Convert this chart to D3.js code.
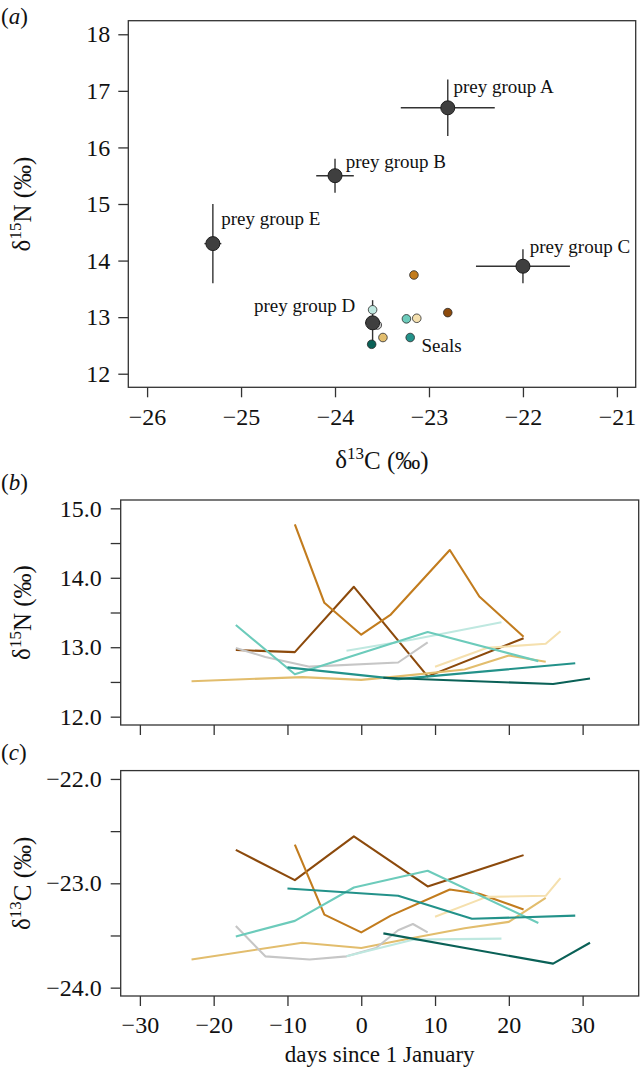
<!DOCTYPE html>
<html>
<head>
<meta charset="utf-8">
<script src="https://cdn.jsdelivr.net/npm/d3@7"></script>
<style>
  html, body { margin: 0; padding: 0; background: #fff; }
  svg { display: block; font-family: "Liberation Serif", "DejaVu Serif", serif; }
</style>
</head>
<body>
<svg id="chart" width="640" height="1072"></svg>
<script>
// ---------------- DATA ----------------
// Panel (a): prey groups (mean d13C, mean d15N, error bar extents)
const preyNames = ["A", "B", "C", "D", "E"];
const preyC     = [-22.8, -24.0, -22.0, -23.6, -25.3];
const preyN     = [16.7, 15.5, 13.9, 12.9, 14.3];
const preyCLo   = [-23.3, -24.2, -22.5, -23.68, -25.39];
const preyCHi   = [-22.3, -23.8, -21.5, -23.52, -25.21];
const preyNLo   = [16.2, 15.2, 13.6, 12.55, 13.6];
const preyNHi   = [17.2, 15.8, 14.2, 13.3, 15.0];

// Seals (one per individual, colour-coded)
const sealIds = ["darkBrown", "orange", "tan", "paleYellow", "grey", "paleCyan", "turq", "teal", "darkTeal"];
const sealC   = [-22.80, -23.16, -23.49, -23.13, -23.55, -23.60, -23.24, -23.20, -23.61];
const sealN   = [13.08, 13.745, 12.64, 12.98, 12.86, 13.13, 12.97, 12.64, 12.52];

// Panel (b): d15N time series, [day since 1 January, value]
const seriesN = {
  darkBrown:  [[-17,12.96],[-9,12.93],[-1,13.87],[9,12.58],[22,13.13]],
  orange:     [[-9,14.77],[-5,13.64],[0,13.18],[4,13.47],[12,14.40],[16,13.73],[22,13.15]],
  tan:        [[-23,12.51],[-8,12.57],[0,12.53],[5,12.58],[14,12.68],[20,12.88],[25,12.79]],
  paleYellow: [[10,12.72],[17,12.99],[25,13.05],[27,13.23]],
  grey:       [[-17,12.99],[-13,12.86],[-7,12.72],[5,12.78],[9,13.07]],
  paleCyan:   [[-2,12.95],[7,13.11],[19,13.36]],
  turq:       [[-17,13.32],[-9,12.61],[9,13.22],[24,12.80]],
  teal:       [[-10,12.71],[5,12.54],[29,12.77]],
  darkTeal:   [[3,12.56],[26,12.47],[31,12.55]]
};

// Panel (c): d13C time series
const seriesC = {
  darkBrown:  [[-17,-22.68],[-9,-22.97],[-1,-22.55],[9,-23.03],[22,-22.73]],
  orange:     [[-9,-22.63],[-5,-23.30],[0,-23.47],[4,-23.31],[12,-23.06],[16,-23.10],[22,-23.25]],
  tan:        [[-23,-23.73],[-8,-23.57],[0,-23.62],[5,-23.55],[14,-23.43],[20,-23.37],[25,-23.14]],
  paleYellow: [[10,-23.32],[17,-23.13],[25,-23.12],[27,-22.95]],
  grey:       [[-17,-23.41],[-13,-23.70],[-7,-23.73],[-2,-23.70],[2,-23.62],[5,-23.45],[7,-23.39],[9,-23.47]],
  paleCyan:   [[-2,-23.70],[7,-23.54],[19,-23.53]],
  turq:       [[-17,-23.51],[-9,-23.36],[-1,-23.04],[9,-22.88],[24,-23.38]],
  teal:       [[-10,-23.05],[5,-23.12],[15,-23.34],[29,-23.31]],
  darkTeal:   [[3,-23.48],[26,-23.77],[31,-23.57]]
};

// Tick values
const ticksAX = [-26, -25, -24, -23, -22, -21];
const ticksAY = [12, 13, 14, 15, 16, 17, 18];
const ticksDays = [-30, -20, -10, 0, 10, 20, 30];
const ticksBY = [12, 12.5, 13, 13.5, 14, 14.5, 15];
const ticksCY = [-24, -23.5, -23, -22.5, -22];

// ---------------- STYLE ----------------
const colors = {
  darkBrown: "#8c4a0c", orange: "#c27c1e", tan: "#e2bd6d", paleYellow: "#f5e0ae",
  grey: "#c6c6c6", paleCyan: "#bfe8e0", turq: "#6ccbbb", teal: "#23928a", darkTeal: "#0a6157"
};
const axisCol = "#333";
const tickFont = 24;
const minus = s => String(s).replace("-", "\u2212");

const svg = d3.select("#chart");

function drawBox(g, x0, x1, y0, y1) {
  g.append("rect").attr("x", x0).attr("y", y0).attr("width", x1 - x0).attr("height", y1 - y0)
    .attr("fill", "none").attr("stroke", axisCol).attr("stroke-width", 1.3);
}
function styleAxis(sel) {
  sel.select(".domain").remove();
  sel.selectAll(".tick line").attr("stroke", axisCol).attr("stroke-width", 1.3);
  sel.selectAll(".tick text").attr("fill", "#111").style("font-size", tickFont + "px")
    .style("font-family", "'Liberation Serif', serif");
}
function isoText(t, iso, elem) {
  t.append("tspan").text("\u03b4");
  t.append("tspan").text(iso).style("font-size", "17px").attr("dy", "-0.55em");
  t.append("tspan").text(elem + " (\u2030)").attr("dy", "0.4em");
}
function yTitle(g, cx, cy, iso, elem) {
  const t = g.append("text").attr("transform", `translate(${cx},${cy}) rotate(-90)`)
    .attr("text-anchor", "middle").style("font-size", "25px").attr("fill", "#111");
  isoText(t, iso, elem);
}
function xTitleIso(g, cx, cy, iso, elem) {
  const t = g.append("text").attr("x", cx).attr("y", cy)
    .attr("text-anchor", "middle").style("font-size", "25px").attr("fill", "#111");
  isoText(t, iso, elem);
}
function panelLabel(g, x, y, letter) {
  const t = g.append("text").attr("x", x).attr("y", y).style("font-size", "23px").attr("fill", "#111");
  t.append("tspan").text("(");
  t.append("tspan").text(letter).style("font-style", "italic");
  t.append("tspan").text(")");
}

// ---------------- PANEL A ----------------
const ga = svg.append("g");
const xA = d3.scaleLinear().domain([-26.2, -20.8]).range([128.3, 635.7]);
const yA = d3.scaleLinear().domain([11.76, 18.24]).range([387.3, 20.7]);
drawBox(ga, xA.range()[0], xA.range()[1], yA.range()[1], yA.range()[0]);
ga.append("g").attr("transform", `translate(0,${yA.range()[0]})`)
  .call(d3.axisBottom(xA).tickValues(ticksAX).tickSize(10).tickPadding(11).tickFormat(d => minus(d)))
  .call(styleAxis);
ga.append("g").attr("transform", `translate(${xA.range()[0]},0)`)
  .call(d3.axisLeft(yA).tickValues(ticksAY).tickSize(10).tickPadding(8).tickFormat(d => d))
  .call(styleAxis);
yTitle(ga, 30, (yA.range()[0] + yA.range()[1]) / 2, "15", "N");
xTitleIso(ga, (xA.range()[0] + xA.range()[1]) / 2, 468, "13", "C");
panelLabel(ga, 1, 24, "a");

// error bars
const prey = preyNames.map((n, i) => ({ n, c: preyC[i], v: preyN[i], cl: preyCLo[i], ch: preyCHi[i], nl: preyNLo[i], nh: preyNHi[i] }));
const eb = ga.append("g").attr("stroke", "#333").attr("stroke-width", 1.4);
eb.selectAll(".h").data(prey).join("line")
  .attr("x1", d => xA(d.cl)).attr("x2", d => xA(d.ch)).attr("y1", d => yA(d.v)).attr("y2", d => yA(d.v));
eb.selectAll(".v").data(prey).join("line").attr("class", "v")
  .attr("x1", d => xA(d.c)).attr("x2", d => xA(d.c)).attr("y1", d => yA(d.nl)).attr("y2", d => yA(d.nh));

// seals
const seals = sealIds.map((id, i) => ({ id, c: sealC[i], v: sealN[i] }));
ga.append("g").selectAll("circle").data(seals).join("circle")
  .attr("cx", d => xA(d.c)).attr("cy", d => yA(d.v)).attr("r", 4.3)
  .attr("fill", d => colors[d.id]).attr("stroke", "#2a2a2a").attr("stroke-width", 0.8);

// prey circles
ga.append("g").selectAll("circle").data(prey).join("circle")
  .attr("cx", d => xA(d.c)).attr("cy", d => yA(d.v)).attr("r", 7)
  .attr("fill", "#3f3f3f").attr("stroke", "#1e1e1e").attr("stroke-width", 1);

// labels (text anchor positions in data units)
const labelText  = ["prey group A", "prey group B", "prey group C", "prey group D", "prey group E", "Seals"];
const labelC     = [-22.74, -23.887, -21.927, -23.784, -25.211, -23.08];
const labelN     = [16.957, 15.642, 14.134, 13.086, 14.624, 12.39];
const labelAnch  = ["start", "start", "start", "end", "start", "start"];
ga.append("g").selectAll("text").data(labelText).join("text")
  .attr("x", (d, i) => xA(labelC[i])).attr("y", (d, i) => yA(labelN[i]))
  .attr("text-anchor", (d, i) => labelAnch[i])
  .style("font-size", "19px").attr("fill", "#111").text(d => d);

// ---------------- PANELS B & C ----------------
const xT = d3.scaleLinear().domain([-32.6, 37.6]).range([120.7, 638.7]);
function timePanel(yDomain, yRange, series, yTicks, showXLabels, letter, iso, elem, labelY) {
  const g = svg.append("g");
  const y = d3.scaleLinear().domain(yDomain).range(yRange);
  drawBox(g, xT.range()[0], xT.range()[1], yRange[1], yRange[0]);
  const ax = d3.axisBottom(xT).tickValues(ticksDays).tickSize(10).tickPadding(10)
    .tickFormat(d => showXLabels ? minus(d) : "");
  g.append("g").attr("transform", `translate(0,${yRange[0]})`).call(ax).call(styleAxis);
  g.append("g").attr("transform", `translate(${xT.range()[0]},0)`)
    .call(d3.axisLeft(y).tickValues(yTicks).tickSize(10).tickPadding(9)
      .tickFormat(d => Number.isInteger(d) ? minus(d.toFixed(1)) : ""))
    .call(styleAxis);
  const line = d3.line().x(d => xT(d[0])).y(d => y(d[1]));
  g.append("g").selectAll("path").data(sealIds).join("path")
    .attr("d", id => line(series[id])).attr("fill", "none")
    .attr("stroke", id => colors[id]).attr("stroke-width", 2.1)
    .attr("stroke-linejoin", "round");
  yTitle(g, 30, (yRange[0] + yRange[1]) / 2, iso, elem);
  panelLabel(g, 1, labelY, letter);
  return g;
}
timePanel([11.88, 15.12], [725, 500], seriesN, ticksBY, false, "b", "15", "N", 490);
const gc = timePanel([-24.08, -21.92], [996, 770.6], seriesC, ticksCY, true, "c", "13", "C", 760);
gc.append("text").attr("x", (xT.range()[0] + xT.range()[1]) / 2).attr("y", 1062)
  .attr("text-anchor", "middle").style("font-size", "23px").attr("fill", "#111").text("days since 1 January");
</script>
</body>
</html>
